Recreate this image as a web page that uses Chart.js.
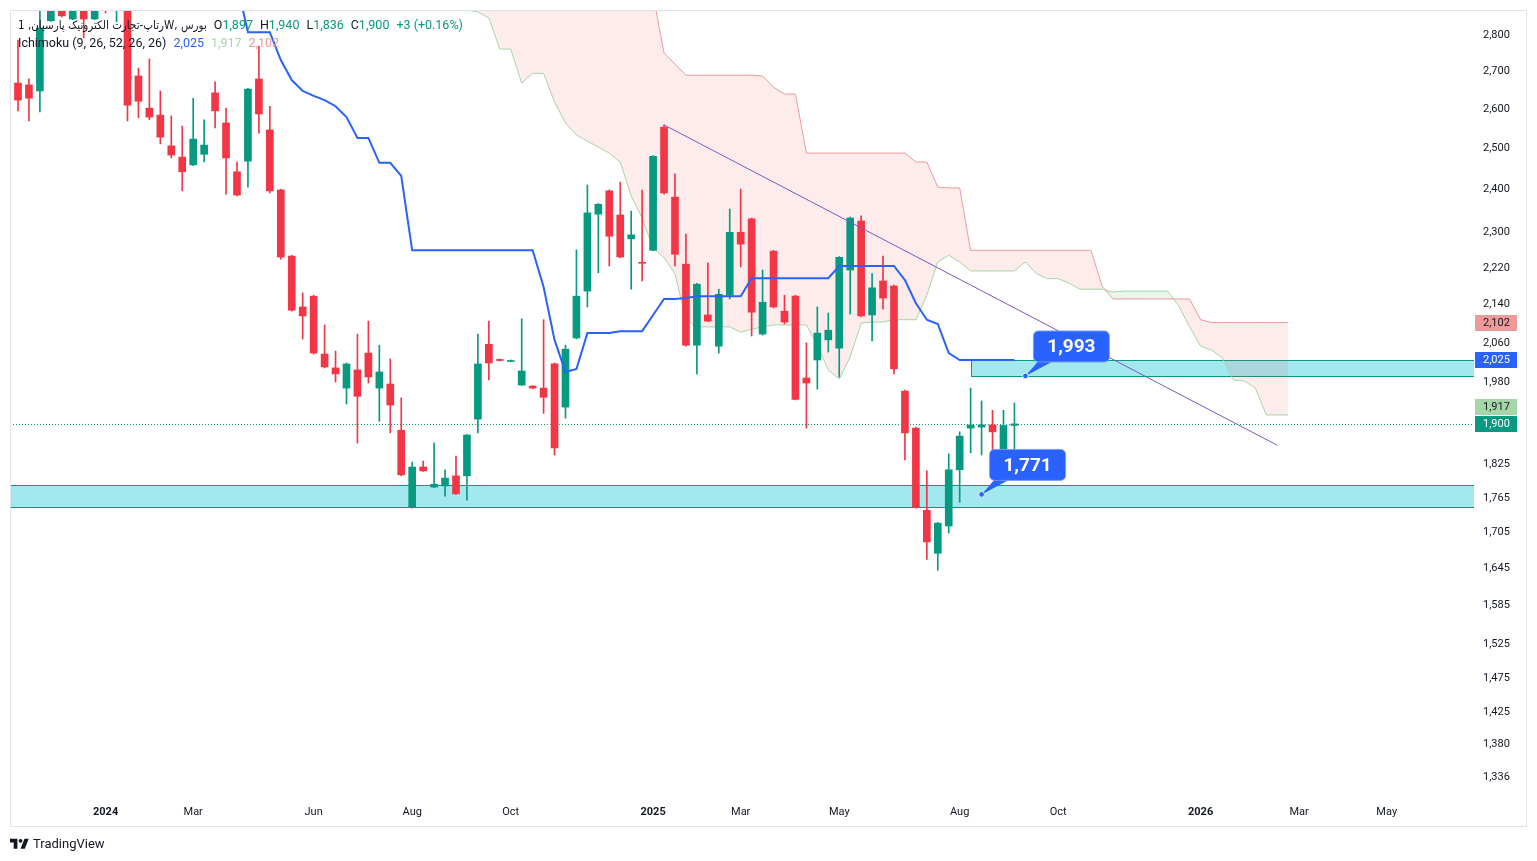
<!DOCTYPE html>
<html>
<head>
<meta charset="utf-8">
<script src="https://cdn.jsdelivr.net/npm/chart.js@4.4.1/dist/chart.umd.min.js"></script>
<style>
  html, body { margin: 0; padding: 0; background: #fff; }
  #wrap { position: relative; width: 1537px; height: 861px; overflow: hidden; }
  #chart { position: absolute; left: 0; top: 0; }
  #legend { position: absolute; left: 18px; top: 16px; font-size: 12.5px; line-height: 17px;
    font-family: Roboto, "DejaVu Sans", sans-serif; color: #131722; white-space: nowrap; pointer-events: none; }
  #legend span.g { margin-left: 7px; }
  #legend .fa { font-family: "DejaVu Sans Condensed", "DejaVu Sans", sans-serif; font-size: 11.5px; }
  .up { color: #089981; }
  #footer { position: absolute; left: 10px; top: 836px; font: 13px Roboto, sans-serif; color: #131722; display: flex; align-items: center; }
  #footer svg { margin-right: 4px; }
</style>
</head>
<body>
<div id="wrap">
  <canvas id="chart" width="1537" height="861"></canvas>
  <div id="legend">
    <div id="l1"></div>
    <div id="l2"></div>
  </div>
  <div id="footer">
    <svg width="19" height="13" viewBox="0 0 36 24"><path d="M14 22H7V10H0V3h14v19zM28 22h-8l7.5-19h8L28 22z" fill="#131722"/><circle cx="20" cy="7" r="3.6" fill="#131722"/></svg>
    <span>TradingView</span>
  </div>
</div>
<script>
// weekly candles, bar index -1 .. 91
const firstBar = -1;
const opens = [2544, 2669, 2664, 2648, 2840, 2943, 2845, 2914, 2845, 2923, 2885, 2950, 2688, 2603, 2585, 2507, 2479, 2460, 2486, 2643,
  2565, 2443, 2469, 2680, 2547, 2399, 2246, 2135, 2158, 2037, 2009, 1969, 2005, 2039, 1969, 1977, 1888, 1749, 1820, 1784,
  1786, 1804, 1804, 1909, 2057, 2026, 2022, 1975, 1973, 1969, 2017, 1932, 2070, 2169, 2342, 2397, 2340, 2285, 2232, 2259,
  2554, 2382, 2228, 2055, 2118, 2053, 2160, 2300, 2331, 2078, 2257, 2126, 2158, 1989, 2025, 2066, 2049, 2215, 2326, 2118,
  2191, 2180, 1963, 1892, 1743, 1670, 1716, 1815, 1892, 1894, 1898, 1838, 1897];
const highs = [2745, 2786, 2680, 2876, 2958, 2972, 2940, 2930, 2935, 2940, 2990, 2975, 2709, 2734, 2648, 2583, 2557, 2629, 2573, 2672,
  2603, 2467, 2655, 2769, 2608, 2401, 2248, 2165, 2160, 2097, 2043, 2019, 2078, 2105, 2055, 2027, 1950, 1829, 1831, 1864,
  1815, 1840, 1880, 2078, 2105, 2027, 2025, 2110, 1974, 2108, 2019, 2055, 2260, 2411, 2367, 2399, 2418, 2349, 2399, 2483,
  2560, 2438, 2296, 2186, 2231, 2173, 2354, 2401, 2333, 2215, 2259, 2160, 2160, 2060, 2135, 2122, 2245, 2335, 2338, 2207,
  2246, 2182, 1965, 1894, 1813, 1722, 1844, 1885, 1969, 1944, 1926, 1926, 1940];
const lows = [2522, 2596, 2570, 2593, 2838, 2851, 2843, 2792, 2843, 2862, 2837, 2570, 2578, 2573, 2512, 2477, 2397, 2458, 2467, 2552,
  2389, 2385, 2406, 2539, 2392, 2239, 2126, 2068, 2037, 2009, 1981, 1938, 1864, 1979, 1905, 1883, 1804, 1747, 1812, 1783,
  1768, 1771, 1761, 1883, 1985, 2023, 2021, 1974, 1968, 1920, 1842, 1911, 2068, 2135, 2209, 2224, 2242, 2173, 2191, 2258,
  2389, 2224, 2053, 1997, 2104, 2039, 2152, 2222, 2074, 2076, 2133, 2099, 1946, 1892, 1967, 2041, 1991, 2120, 2114, 2064,
  2130, 1997, 1833, 1747, 1660, 1642, 1704, 1757, 1846, 1842, 1836, 1836, 1836];
const closes = [2723, 2624, 2629, 2820, 2928, 2854, 2923, 2845, 2908, 2894, 2958, 2611, 2621, 2580, 2529, 2484, 2443, 2524, 2509, 2596,
  2477, 2387, 2653, 2588, 2397, 2244, 2128, 2116, 2039, 2011, 1997, 2017, 1953, 1991, 2001, 1936, 1806, 1820, 1813, 1789,
  1800, 1772, 1879, 2017, 2019, 2024, 2024, 2003, 1969, 1951, 1855, 2047, 2158, 2345, 2365, 2291, 2244, 2294, 2230, 2481,
  2392, 2250, 2055, 2184, 2105, 2162, 2300, 2273, 2124, 2145, 2135, 2103, 1947, 1979, 2080, 2086, 2243, 2333, 2116, 2176,
  2154, 2007, 1883, 1749, 1689, 1721, 1815, 1877, 1898, 1898, 1885, 1897, 1900];

// Ichimoku: base line (blue) from bar 20, leading spans from bar 40 (shifted ahead)
const baseStart = 20;
const baseLine = [2946, 2808, 2808, 2808, 2731, 2677, 2648, 2635, 2624, 2608, 2580, 2527, 2527, 2465, 2465, 2433,
  2259, 2259, 2259, 2259, 2259, 2259, 2259, 2259, 2259, 2259, 2259, 2259,
  2178, 2066, 2001, 2007, 2080, 2080, 2080, 2084, 2084, 2084, 2118, 2152, 2152, 2154,
  2158, 2158, 2158, 2158, 2158, 2197, 2197, 2197, 2197, 2197, 2197, 2197, 2197,
  2224, 2224, 2224, 2224, 2224, 2224, 2193, 2143, 2108, 2099, 2039, 2025, 2025, 2025, 2025, 2025, 2025];
const spanStart = 40;
const spanA = [2914, 2871, 2865, 2848, 2761, 2761, 2669, 2695, 2695, 2619, 2565, 2534, 2519, 2504, 2489, 2467, 2385, 2333, 2264, 2243,
  2207, 2108, 2093, 2093, 2093, 2093, 2082, 2088, 2093, 2097, 2097, 2097, 2097, 2055, 2005, 1987, 2031, 2101, 2103, 2103,
  2108, 2108, 2108, 2160, 2233, 2248, 2233, 2213, 2213, 2213, 2213, 2213, 2233, 2207, 2196, 2196, 2186, 2173, 2173, 2173,
  2167, 2169, 2169, 2169, 2169, 2169, 2137, 2093, 2053, 2045, 2029, 1985, 1983, 1969, 1917, 1917, 1917];
const spanB = [3000, 3000, 3000, 3000, 3000, 3000, 3000, 3000, 3000, 3000, 3000, 3000, 3000, 3000, 3000, 3000, 3000,
  2987, 2914, 2750, 2720, 2690, 2690, 2690, 2690, 2690, 2690, 2690, 2688, 2658, 2640, 2640,
  2489, 2489, 2489, 2489, 2489, 2489, 2489, 2489, 2489, 2489, 2467, 2467, 2406, 2404, 2404,
  2259, 2259, 2259, 2259, 2259, 2259, 2259, 2259, 2259, 2259, 2259, 2259, 2180,
  2152, 2152, 2152, 2152, 2152, 2152, 2152, 2152, 2108, 2102, 2102, 2102, 2102, 2102, 2102, 2102, 2102];

// axes
const yTicks = [2800, 2700, 2600, 2500, 2400, 2300, 2220, 2140, 2060, 1980, 1825, 1765, 1705, 1645, 1585, 1525, 1475, 1425, 1380, 1336];
const xTickBars = [8, 16, 27, 36, 45, 58, 66, 75, 86, 95, 108, 117, 125];
const xTickLabels = ['2024', 'Mar', 'Jun', 'Aug', 'Oct', '2025', 'Mar', 'May', 'Aug', 'Oct', '2026', 'Mar', 'May'];

// drawings
const zoneLows = [1749, 1992];
const zoneHighs = [1788, 2024];
const zoneFromBar = [null, 87];
const trendBars = [59, 115];
const trendPrices = [2560, 1860];
const calloutBars = [92, 88];
const calloutPrices = [1993, 1771];

const UP = '#089981', DOWN = '#F23645';
const fmt = v => v.toLocaleString('en-US');
const candleColor = c => closes[c.dataIndex] >= opens[c.dataIndex] ? UP : DOWN;

const wickData = highs.map((h, k) => ({ x: firstBar + k, y: [lows[k], h] }));
const bodyData = opens.map((o, k) => ({ x: firstBar + k, y: [o, closes[k]] }));

const last = closes.length - 1;

// legend text
const chg = closes[last] - closes[last - 1];
const pct = (chg / closes[last - 1] * 100).toFixed(2);
document.getElementById('l1').innerHTML =
  '<span class="fa">رتاپ-تجارت الکترونیک پارسیان, 1W, بورس</span>' +
  '<span class="g">O<span class="up">' + fmt(opens[last]) + '</span></span>' +
  '<span class="g">H<span class="up">' + fmt(highs[last]) + '</span></span>' +
  '<span class="g">L<span class="up">' + fmt(lows[last]) + '</span></span>' +
  '<span class="g">C<span class="up">' + fmt(closes[last]) + '</span></span>' +
  '<span class="g up">+' + chg + ' (+' + pct + '%)</span>';
document.getElementById('l2').innerHTML =
  '<span>Ichimoku (9, 26, 52, 26, 26)</span>' +
  '<span class="g" style="color:#2962FF">' + fmt(baseLine[baseLine.length - 1]) + '</span>' +
  '<span class="g" style="color:#A5D6A7">' + fmt(spanA[spanA.length - 1]) + '</span>' +
  '<span class="g" style="color:#EF9A9A">' + fmt(spanB[spanB.length - 1]) + '</span>';

const overlay = {
  id: 'overlay',
  beforeDatasetsDraw(chart) {
    const { ctx, chartArea: a, scales: { x, y } } = chart;
    ctx.save();
    ctx.beginPath();
    ctx.rect(a.left, a.top, a.right - a.left, a.bottom - a.top);
    ctx.clip();
    zoneLows.forEach((lo, k) => {
      const x0 = zoneFromBar[k] === null ? a.left - 2 : Math.round(x.getPixelForValue(zoneFromBar[k])) + 0.5;
      const y0 = Math.round(y.getPixelForValue(zoneHighs[k])) + 0.5;
      const y1 = Math.round(y.getPixelForValue(lo)) + 0.5;
      ctx.fillStyle = 'rgba(0,188,212,0.36)';
      ctx.fillRect(x0, y0, a.right + 2 - x0, y1 - y0);
      ctx.strokeStyle = '#089981';
      ctx.lineWidth = 1;
      ctx.strokeRect(x0, y0, a.right + 2 - x0, y1 - y0);
    });
    // last price line
    const yl = Math.round(y.getPixelForValue(closes[last])) + 0.5;
    ctx.setLineDash([1, 2]);
    ctx.strokeStyle = UP;
    ctx.beginPath();
    ctx.moveTo(a.left, yl);
    ctx.lineTo(a.right, yl);
    ctx.stroke();
    ctx.restore();
  },
  afterDatasetsDraw(chart) {
    const { ctx, chartArea: a, scales: { x, y } } = chart;
    ctx.save();
    ctx.beginPath();
    ctx.rect(a.left, a.top, a.right - a.left, a.bottom - a.top);
    ctx.clip();
    // trend line
    ctx.strokeStyle = '#7E57C2';
    ctx.lineWidth = 1;
    ctx.beginPath();
    ctx.moveTo(x.getPixelForValue(trendBars[0]), y.getPixelForValue(trendPrices[0]));
    ctx.lineTo(x.getPixelForValue(trendBars[1]), y.getPixelForValue(trendPrices[1]));
    ctx.stroke();
    // callouts
    calloutBars.forEach((b, k) => {
      const px = x.getPixelForValue(b), py = y.getPixelForValue(calloutPrices[k]);
      const bw = 76, bh = 31, bx = px + 8, by = py - 14 - bh;
      ctx.fillStyle = '#2962FF';
      ctx.beginPath();
      ctx.moveTo(bx + 6, by + bh - 2);
      ctx.lineTo(bx + 22, by + bh - 2);
      ctx.lineTo(px, py);
      ctx.closePath();
      ctx.fill();
      ctx.beginPath();
      ctx.roundRect(bx, by, bw, bh, 5);
      ctx.fill();
      ctx.strokeStyle = 'rgba(120,160,255,0.9)';
      ctx.lineWidth = 1;
      ctx.stroke();
      ctx.fillStyle = '#fff';
      ctx.font = 'bold 19px Roboto, sans-serif';
      ctx.textAlign = 'center';
      ctx.textBaseline = 'middle';
      ctx.fillText(fmt(calloutPrices[k]), bx + bw / 2, by + bh / 2 + 1);
      ctx.beginPath();
      ctx.arc(px, py, 2.8, 0, Math.PI * 2);
      ctx.fillStyle = '#2962FF';
      ctx.fill();
      ctx.strokeStyle = 'rgba(255,255,255,0.8)';
      ctx.stroke();
    });
    ctx.restore();
  },
  afterDraw(chart) {
    const { ctx, chartArea: a, scales: { y } } = chart;
    ctx.save();
    const tags = [
      { v: spanB[spanB.length - 1], bg: '#EF9A9A', fg: '#131722' },
      { v: baseLine[baseLine.length - 1], bg: '#2962FF', fg: '#fff' },
      { v: spanA[spanA.length - 1], bg: '#A5D6A7', fg: '#131722' },
      { v: closes[last], bg: UP, fg: '#fff' }
    ].map(t => ({ ...t, py: y.getPixelForValue(t.v) })).sort((p, q) => p.py - q.py);
    const h = 16;
    for (let k = tags.length - 2; k >= 0; k--) {
      if (tags[k].py + h / 2 > tags[k + 1].py - h / 2 - 1) tags[k].py = tags[k + 1].py - h - 1;
    }
    ctx.font = '11px Roboto, sans-serif';
    ctx.textBaseline = 'middle';
    ctx.textAlign = 'left';
    tags.forEach(t => {
      ctx.fillStyle = t.bg;
      ctx.fillRect(a.right + 1, Math.round(t.py - h / 2), 42, h);
      ctx.fillStyle = t.fg;
      ctx.fillText(fmt(t.v), a.right + 9, t.py + 0.5);
    });
    ctx.strokeStyle = '#E0E3EB';
    ctx.lineWidth = 1;
    ctx.strokeRect(10.5, 10.5, 1516, 816);
    ctx.restore();
  }
};

new Chart(document.getElementById('chart'), {
  type: 'bar',
  data: {
    datasets: [
      {
        type: 'line', label: 'Lead 1', data: spanA.map((v, k) => ({ x: spanStart + k, y: v })),
        borderColor: '#A5D6A7', borderWidth: 1, pointRadius: 0, tension: 0,
        fill: { target: 1, above: 'rgba(67,160,71,0.1)', below: 'rgba(242,54,69,0.1)' }, order: 6
      },
      {
        type: 'line', label: 'Lead 2', data: spanB.map((v, k) => ({ x: spanStart + k, y: v })),
        borderColor: '#EF9A9A', borderWidth: 1, pointRadius: 0, tension: 0, fill: false, order: 5
      },
      {
        type: 'line', label: 'Base', data: baseLine.map((v, k) => ({ x: baseStart + k, y: v })),
        borderColor: '#2962FF', borderWidth: 2, pointRadius: 0, tension: 0, fill: false, order: 0
      },
      {
        type: 'bar', label: 'wick', data: wickData, backgroundColor: candleColor,
        barThickness: 1, grouped: false, clip: 0, order: 3
      },
      {
        type: 'bar', label: 'body', data: bodyData, backgroundColor: candleColor,
        barThickness: 7, minBarLength: 1, grouped: false, clip: 0, order: 2
      }
    ]
  },
  options: {
    responsive: false,
    animation: false,
    events: [],
    layout: { padding: { left: 10, top: 10, right: 10, bottom: 34 } },
    plugins: { legend: { display: false }, tooltip: { enabled: false } },
    scales: {
      x: {
        type: 'linear', min: -0.73, max: 132.97, offset: false, bounds: 'data',
        grid: { display: false, drawTicks: false }, border: { display: false },
        afterBuildTicks: s => { s.ticks = xTickBars.map(v => ({ value: v })); },
        afterFit: s => { s.height = 30; s.paddingLeft = 0; s.paddingRight = 0; },
        ticks: {
          autoSkip: false, maxRotation: 0, padding: 9, color: '#131722',
          font: c => ({ family: 'Roboto, sans-serif', size: 11, weight: /^\d{4}$/.test(xTickLabels[c.index] || '') ? 'bold' : 'normal' }),
          callback: v => xTickLabels[xTickBars.indexOf(v)]
        }
      },
      y: {
        type: 'logarithmic', position: 'right', min: 1309.7, max: 2870.7, bounds: 'data',
        grid: { display: false, drawTicks: false }, border: { display: false },
        afterBuildTicks: s => { s.ticks = yTicks.map(v => ({ value: v })); },
        afterFit: s => { s.width = 53; s.paddingTop = 0; s.paddingBottom = 0; },
        ticks: {
          autoSkip: false, padding: 9, color: '#131722',
          font: { family: 'Roboto, sans-serif', size: 11 },
          callback: v => fmt(v)
        }
      }
    }
  },
  plugins: [overlay]
});
</script>
</body>
</html>
